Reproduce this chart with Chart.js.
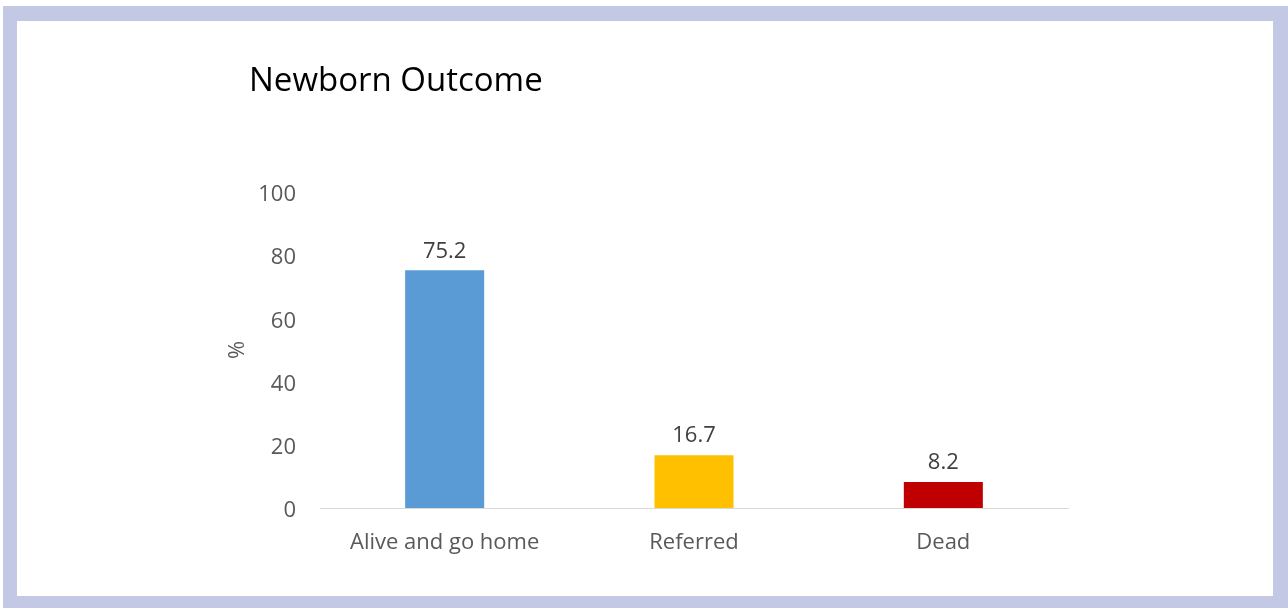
<!DOCTYPE html>
<html>
<head>
<meta charset="utf-8">
<script src="https://cdn.jsdelivr.net/npm/chart.js@4/dist/chart.umd.min.js"></script>
<style>
  html, body { margin: 0; padding: 0; background: #ffffff; }
  #wrap { width: 1288px; height: 608px; position: relative; }
</style>
</head>
<body>
<div id="wrap"><canvas id="c" width="1288" height="608"></canvas></div>
<script>
const chartTitle = "Newborn Outcome";
const categories = ["Alive and go home", "Referred", "Dead"];
const values = [75.2, 16.7, 8.2];
const barColors = ["#5b9bd5", "#ffc000", "#c00000"];
const yTicks = [0, 20, 40, 60, 80, 100];
const yAxisTitle = "%";

const FONT = "'Open Sans', 'Liberation Sans', sans-serif";

const framePlugin = {
  id: 'frame',
  beforeDraw(chart) {
    const ctx = chart.ctx;
    ctx.save();
    ctx.fillStyle = '#ffffff';
    ctx.fillRect(0, 0, chart.width, chart.height);
    ctx.fillStyle = '#c3c9e5';
    ctx.fillRect(3, 6, 1285, 15);      // top
    ctx.fillRect(3, 6, 14, 602);       // left
    ctx.fillRect(1273, 6, 15, 602);    // right
    ctx.fillRect(3, 596, 1285, 12);    // bottom
    ctx.restore();
  }
};

const titlePlugin = {
  id: 'customTitle',
  afterDraw(chart) {
    const ctx = chart.ctx;
    ctx.save();
    ctx.font = "33px " + FONT;
    ctx.fillStyle = '#000000';
    ctx.textAlign = 'left';
    ctx.textBaseline = 'middle';
    ctx.fillText(chartTitle, 249, 82);
    ctx.restore();
  }
};

const labelPlugin = {
  id: 'valueLabels',
  afterDatasetsDraw(chart) {
    const ctx = chart.ctx;
    const meta = chart.getDatasetMeta(0);
    ctx.save();
    ctx.font = "22px " + FONT;
    ctx.fillStyle = '#404040';
    ctx.textAlign = 'center';
    ctx.textBaseline = 'middle';
    meta.data.forEach((bar, i) => {
      ctx.fillText(String(values[i]), bar.x, bar.y - 19);
    });
    ctx.restore();
  }
};

new Chart(document.getElementById('c'), {
  type: 'bar',
  data: {
    labels: categories,
    datasets: [{
      data: values,
      backgroundColor: barColors,
      borderWidth: 0,
      categoryPercentage: 1.0,
      barPercentage: 0.317
    }]
  },
  options: {
    responsive: false,
    animation: false,
    devicePixelRatio: 1,
    layout: { padding: { left: 225, right: 220, top: 192, bottom: 0 } },
    plugins: {
      legend: { display: false },
      title: { display: false },
      tooltip: { enabled: false }
    },
    scales: {
      x: {
        grid: { display: false, drawTicks: false },
        border: { display: true, color: '#d9d9d9', width: 1 },
        ticks: {
          color: '#595959',
          font: { family: FONT, size: 22 },
          padding: 22,
          maxRotation: 0
        },
        afterFit(scale) { scale.height = 100; }
      },
      y: {
        min: 0,
        max: 100,
        afterBuildTicks(scale) { scale.ticks = yTicks.map(v => ({ value: v })); },
        grid: { display: false, drawTicks: false },
        border: { display: false },
        ticks: {
          color: '#595959',
          font: { family: FONT, size: 22 },
          padding: 24,
          labelOffset: 3
        },
        title: {
          display: true,
          text: yAxisTitle,
          color: '#595959',
          font: { family: FONT, size: 22 },
          padding: 0
        },
        afterFit(scale) { scale.width = 95; }
      }
    }
  },
  plugins: [framePlugin, titlePlugin, labelPlugin]
});
</script>
</body>
</html>
